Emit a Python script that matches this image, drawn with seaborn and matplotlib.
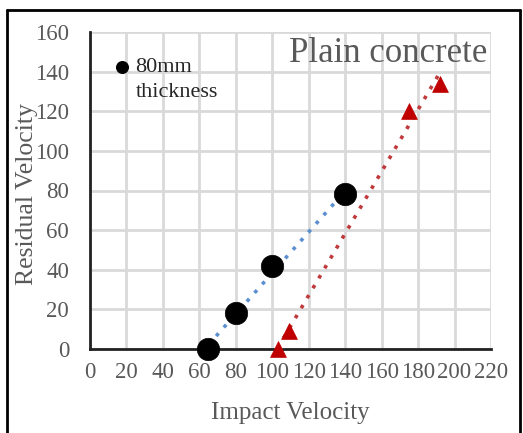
import matplotlib
matplotlib.use("Agg")
import matplotlib.pyplot as plt
from matplotlib.lines import Line2D
import seaborn as sns
import pandas as pd
import numpy as np

# Data
circle_x = [65, 80, 100, 140]
circle_y = [0, 18, 42, 78]
tri_x = [103, 109, 175, 192]
tri_y = [0, 9, 120, 134]
x_ticks = [0, 20, 40, 60, 80, 100, 120, 140, 160, 180, 200, 220]
y_ticks = [0, 20, 40, 60, 80, 100, 120, 140, 160]

sns.set_theme(style="white")
plt.rcParams['font.family'] = ['Liberation Serif', 'DejaVu Serif']

W, H = 523, 433
fig = plt.figure(figsize=(W / 100, H / 100), dpi=100)
ax = fig.add_axes([90 / W, 1 - 349 / H, (491 - 90) / W, (349 - 32) / H])

grid_c = "#d9d9d9"
txt_c = "#595959"

# trend lines
sns.regplot(x=circle_x, y=circle_y, ci=None, scatter=False, ax=ax,
            line_kws=dict(color="#5b8fd0", ls=(0, (1, 2.2)), lw=2.6, zorder=3))
sns.regplot(x=tri_x, y=tri_y, ci=None, scatter=False, ax=ax,
            line_kws=dict(color="#c0393b", ls=(0, (1, 2.2)), lw=2.6, zorder=3))

# markers
df_c = pd.DataFrame({"x": circle_x, "y": circle_y})
df_t = pd.DataFrame({"x": tri_x, "y": tri_y})
sns.scatterplot(data=df_c, x="x", y="y", ax=ax, marker="o", s=260,
                color="black", edgecolor="black", linewidth=0.5, zorder=4, clip_on=False)
sns.scatterplot(data=df_t, x="x", y="y", ax=ax, marker="^", s=130,
                color="#c00000", edgecolor="#c00000", linewidth=0.5, zorder=4, clip_on=False)

ax.set_xlim(0, 220)
ax.set_ylim(0, 160)
ax.set_xticks(x_ticks)
ax.set_yticks(y_ticks)
ax.set_xticklabels([str(v) for v in x_ticks])
ax.set_yticklabels([str(v) for v in y_ticks])
ax.tick_params(axis="x", length=0, pad=9, labelsize=16.5, labelcolor=txt_c)
ax.tick_params(axis="y", length=0, pad=15, labelsize=16.5, labelcolor=txt_c)
ax.grid(True, color=grid_c, lw=2)
ax.set_axisbelow(True)
for s in ["top", "right"]:
    ax.spines[s].set_visible(False)
for s in ["left", "bottom"]:
    ax.spines[s].set_color("#222222")
    ax.spines[s].set_linewidth(2)
    ax.spines[s].set_zorder(2.5)

ax.set_xlabel("Impact Velocity", fontsize=18, color=txt_c)
ax.set_ylabel("Residual Velocity", fontsize=18.5, color=txt_c)
ax.yaxis.set_label_coords(-(90 - 38) / (491 - 90), 0.49)
ax.xaxis.set_label_coords(0.5, -(402 - 349) / (349 - 32))

# annotation: legend-like marker and text
ax.scatter([17.6], [142.3], s=70, color="black", zorder=5)
ax.text(25.0, 146.9, "80mm\nthickness", fontsize=16, color="#262626",
        va="top", ha="left", linespacing=1.4)
ax.text(218, 149, "Plain concrete", fontsize=25, color=txt_c, ha="right", va="center")

# outer frame
fig.add_artist(Line2D([7 / W, 7 / W], [0, 1 - 10 / H], color="black", lw=2, transform=fig.transFigure))
fig.add_artist(Line2D([7 / W, 520 / W], [1 - 10 / H, 1 - 10 / H], color="black", lw=2, transform=fig.transFigure))
fig.add_artist(Line2D([520 / W, 520 / W], [0, 1 - 10 / H], color="black", lw=2, transform=fig.transFigure))

fig.savefig("out.png", dpi=100)
